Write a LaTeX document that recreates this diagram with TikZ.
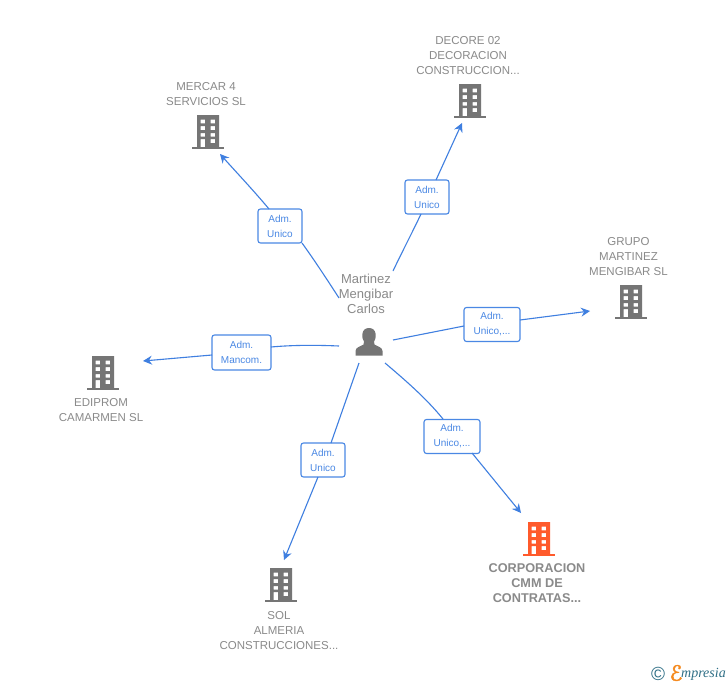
\documentclass[tikz,border=0pt]{standalone}
\usepackage{fontspec}
\setmainfont{Liberation Sans}
\newfontfamily\logofont{Liberation Serif}
\newfontfamily\logoefont[FakeBold=2]{DejaVu Sans}
\usetikzlibrary{arrows.meta}
\definecolor{linkblue}{HTML}{3F7FE0}
\definecolor{boxblue}{HTML}{4A88E4}
\definecolor{txtgray}{HTML}{8A8A8A}
\definecolor{icongray}{HTML}{757575}
\definecolor{iconorange}{HTML}{FF5A2B}
\definecolor{logoteal}{HTML}{2F6F86}
\definecolor{logoorange}{HTML}{F58A1F}
\newcommand{\bldgshape}[1]{%
  \fill[#1] (-16,17) rectangle (16,14.8);
  \fill[#1,even odd rule] (-11,-17) rectangle (11,15)
   (-7.3,-12.5) rectangle (-3,-8.7) (2.7,-12.5) rectangle (7,-8.7)
   (-7.3,-6) rectangle (-3,-2) (2.7,-6) rectangle (7,-2)
   (-7.3,1) rectangle (-3,4.7) (2.7,1) rectangle (7,4.7)
   (-7.3,7) rectangle (-3,15) (2.7,7) rectangle (7,11);}
\tikzset{
  x=1pt,y=-1pt,
  bldg/.style={minimum width=32pt,minimum height=34pt,inner sep=0pt,
    path picture={\begin{scope}[shift={(path picture bounding box.center)}]\bldgshape{#1}\end{scope}}},
  name text/.style={text=txtgray,font=\fontsize{11.5}{15}\selectfont,align=center,inner sep=0pt},
  main text/.style={text=txtgray,font=\fontsize{12.7}{15}\selectfont\bfseries,align=center,inner sep=0pt},
  person text/.style={text=txtgray,font=\fontsize{13}{15}\selectfont,align=center,inner sep=0pt},
  role/.style={draw=boxblue,line width=1.1pt,rounded corners=2.5pt,fill=white,text=boxblue,
    font=\fontsize{10}{15}\selectfont,align=center,inner sep=0pt},
  link/.style={draw=linkblue,line width=1.1pt},
  arrowlink/.style={link,-{Stealth[length=9pt,width=9pt,inset=3pt]}},
}
\begin{document}
\begin{tikzpicture}
\useasboundingbox (0,0) rectangle (728,685);
\fill[white] (0,0) rectangle (728,685);
% buildings
\node[bldg=icongray] (mercar) at (208,132) {};
\node[bldg=icongray] (decore) at (470,101) {};
\node[bldg=icongray] (grupo) at (631,302) {};
\node[bldg=icongray] (ediprom) at (103,373) {};
\node[bldg=icongray] (sol) at (281,585) {};
\node[bldg=iconorange] (corp) at (539,539) {};
% names
\node[name text] (tmercar) at (206,94) {MERCAR 4\\SERVICIOS SL};
\node[name text] (tdecore) at (468,55.5) {DECORE 02\\DECORACION\\CONSTRUCCION...};
\node[name text] (tgrupo) at (628.5,256.5) {GRUPO\\MARTINEZ\\MENGIBAR SL};
\node[name text] (tediprom) at (101,410.5) {EDIPROM\\CAMARMEN SL};
\node[name text] (tsol) at (279,630.5) {SOL\\ALMERIA\\CONSTRUCCIONES...};
\node[main text] (tcorp) at (537,583) {CORPORACION\\CMM DE\\CONTRATAS...};
\node[person text] (tperson) at (366,294) {Martinez\\Mengibar\\Carlos};
% person
\node[minimum width=30pt,minimum height=30pt,inner sep=0pt] (person) at (369,342) {};
\fill[icongray] (355.5,355.5) -- (382.5,355.5) -- (382.5,351)
  .. controls (382.5,347.5) and (378,346.5) .. (374.5,344.5)
  .. controls (373.5,343.5) and (373.5,342.5) .. (374,341.5)
  .. controls (376,338.5) and (376,335) .. (375.5,333.5)
  .. controls (375,330) and (372.5,328) .. (369,328)
  .. controls (365.5,328) and (363,330) .. (362.5,333.5)
  .. controls (362,335) and (362,338.5) .. (364,341.5)
  .. controls (364.5,342.5) and (364.5,343.5) .. (363.5,344.5)
  .. controls (360,346.5) and (355.5,347.5) .. (355.5,351)
  -- cycle;
% role labels
\node[role,minimum width=44pt,minimum height=34pt] (r1) at (280,226) {Adm.\\Unico};
\node[role,minimum width=44pt,minimum height=34pt] (r2) at (427,197) {Adm.\\Unico};
\node[role,minimum width=56pt,minimum height=34pt] (r3) at (492,324.5) {Adm.\\Unico,...};
\node[role,minimum width=59pt,minimum height=35pt] (r4) at (241.5,352.5) {Adm.\\Mancom.};
\node[role,minimum width=44pt,minimum height=34pt] (r5) at (323,460) {Adm.\\Unico};
\node[role,minimum width=56pt,minimum height=34pt] (r6) at (452,436.5) {Adm.\\Unico,...};
% free connector ends
\coordinate (a1) at (220,154); \coordinate (s1) at (339,298);
\coordinate (a2) at (462,123); \coordinate (s2) at (393,271);
\coordinate (a3) at (590,311); \coordinate (s3) at (393,340);
\coordinate (a4) at (143,361); \coordinate (s4) at (339,346);
\coordinate (a5) at (284,560); \coordinate (s5) at (359,363);
\coordinate (a6) at (521,513); \coordinate (s6) at (385,363);
% connectors
\draw[link] (s1) .. controls (328,281) and (315,261) .. (302,243);
\draw[arrowlink] (269,209) .. controls (254,191) and (237,173) .. (a1);
\draw[link] (s2) .. controls (402,252) and (412,233) .. (421,214);
\draw[arrowlink] (436,180) -- (a2);
\draw[link] (s3) -- (464,326);
\draw[arrowlink] (520,320) -- (a3);
\draw[link] (s4) .. controls (316,345) and (293,345) .. (271,347);
\draw[arrowlink] (212,355) -- (a4);
\draw[link] (s5) -- (331,443);
\draw[arrowlink] (318,477) -- (a5);
\draw[link] (s6) .. controls (405,380) and (426,398) .. (443,419);
\draw[arrowlink] (472,453) -- (a6);
% logo
\node[text=logoteal,font=\fontsize{19}{19}\selectfont,inner sep=0pt] (copy) at (658,674) {©};
\node[text=logoorange,font=\logoefont\fontsize{21}{21}\selectfont,inner sep=0pt] (logoe) at (676,673) {ℰ};
\node[text=logoteal,font=\logofont\itshape\fontsize{14}{14}\selectfont,inner sep=0pt,anchor=west] (logom) at (681,674) {mpresia};
\end{tikzpicture}
\end{document}
